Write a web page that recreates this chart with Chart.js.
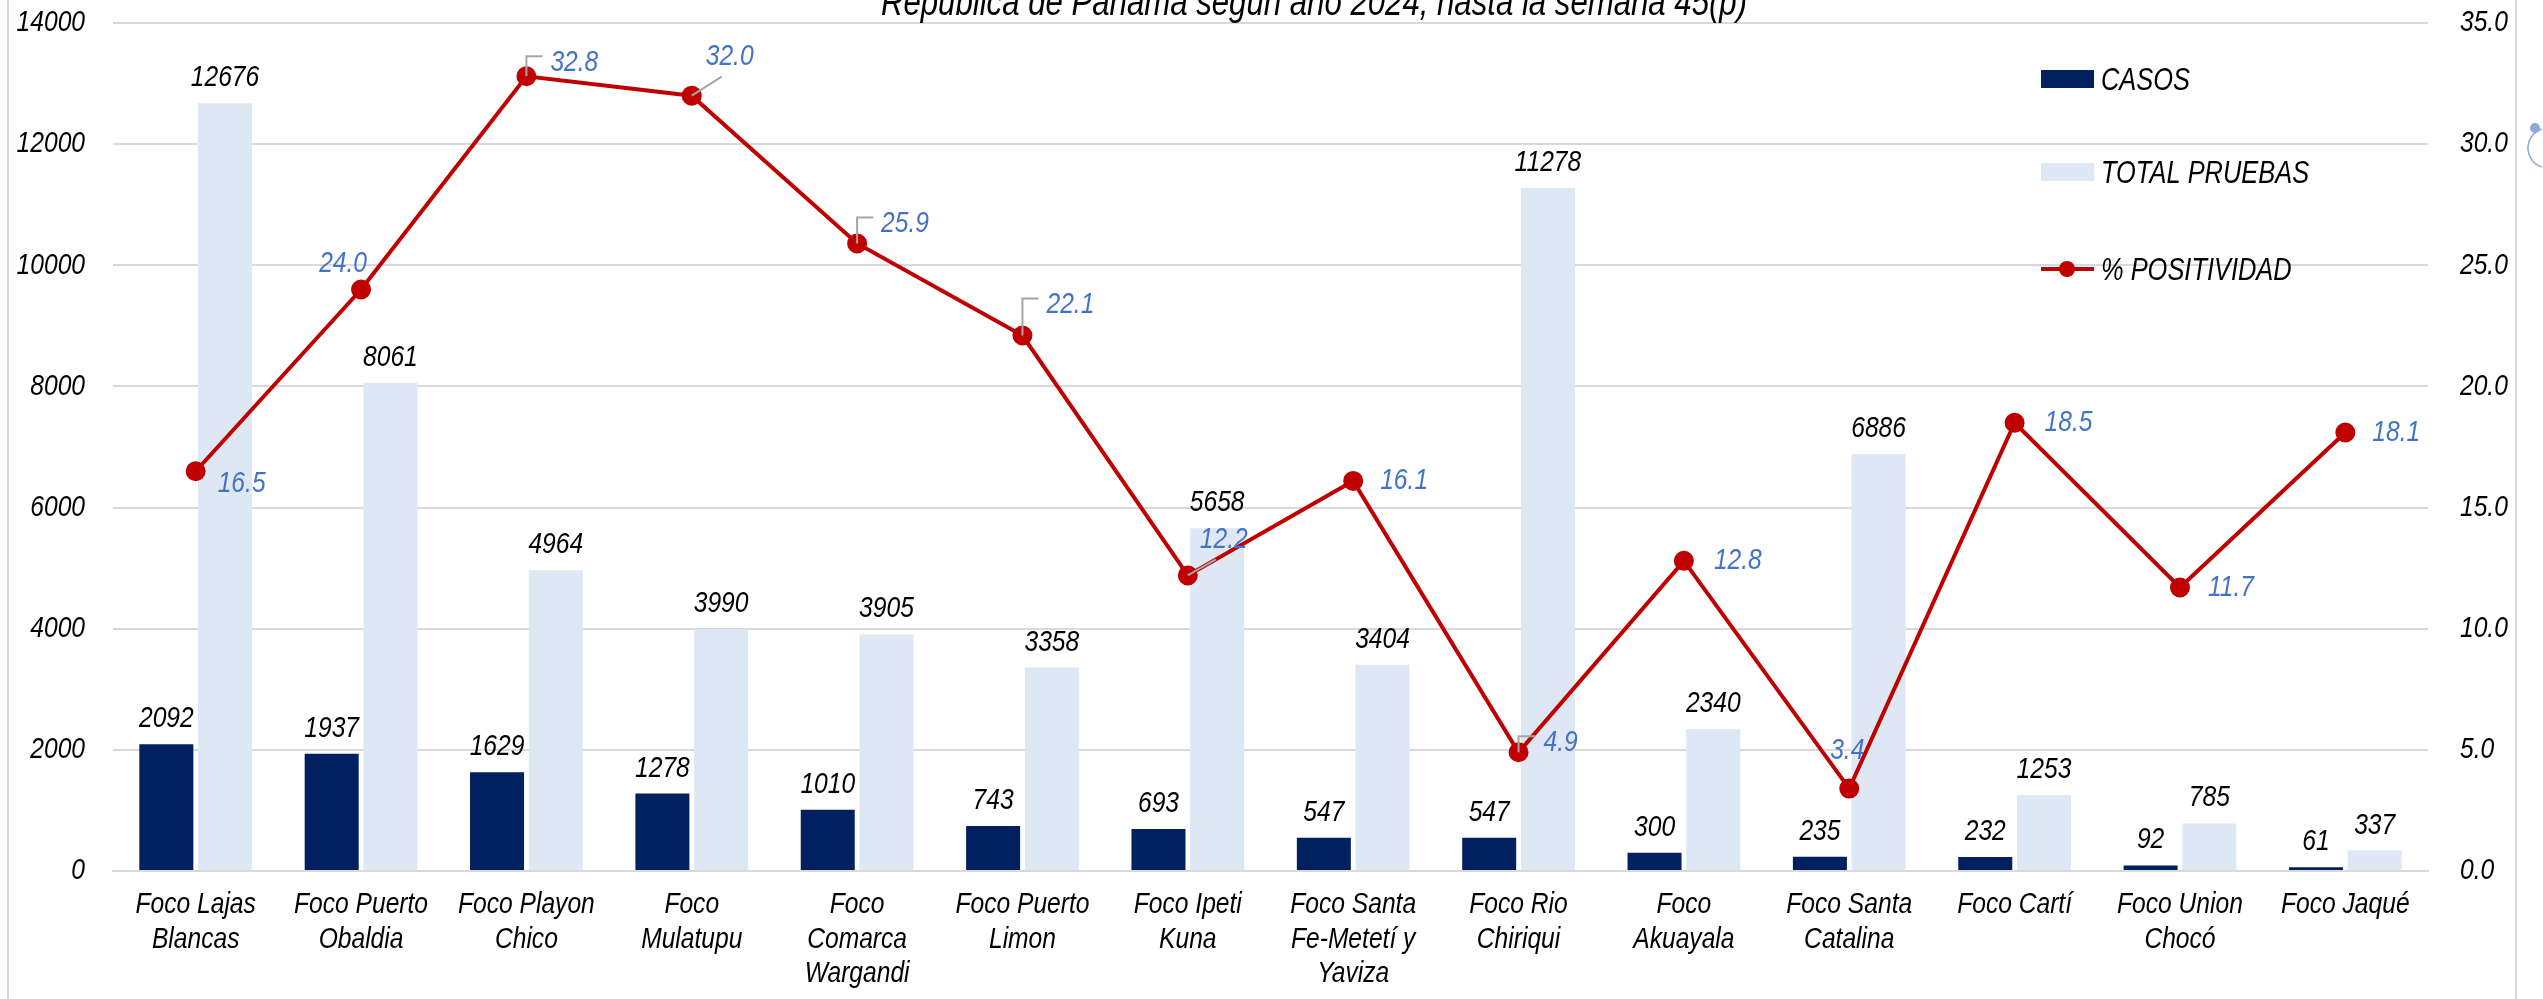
<!DOCTYPE html>
<html>
<head>
<meta charset="utf-8">
<script src="https://cdn.jsdelivr.net/npm/chart.js@4.4.1/dist/chart.umd.min.js"></script>
<style>
  html, body { margin: 0; padding: 0; background: #fff; }
  #wrap { width: 2543px; height: 999px; position: relative; }
</style>
</head>
<body>
<div id="wrap"><canvas id="grafico" width="2543" height="999"></canvas></div>
<script>
// datos
const categorias = [
    ['Foco Lajas', 'Blancas'],
    ['Foco Puerto', 'Obaldia'],
    ['Foco Playon', 'Chico'],
    ['Foco', 'Mulatupu'],
    ['Foco', 'Comarca', 'Wargandi'],
    ['Foco Puerto', 'Limon'],
    ['Foco Ipeti', 'Kuna'],
    ['Foco Santa', 'Fe-Metetí y', 'Yaviza'],
    ['Foco Rio', 'Chiriqui'],
    ['Foco', 'Akuayala'],
    ['Foco Santa', 'Catalina'],
    ['Foco Cartí'],
    ['Foco Union', 'Chocó'],
    ['Foco Jaqué']
];
const casos = [2092, 1937, 1629, 1278, 1010, 743, 693, 547, 547, 300, 235, 232, 92, 61];
const totalPruebas = [12676, 8061, 4964, 3990, 3905, 3358, 5658, 3404, 11278, 2340, 6886, 1253, 785, 337];
const positividad = [16.5, 24.0, 32.8, 32.0, 25.9, 22.1, 12.2, 16.1, 4.9, 12.8, 3.4, 18.5, 11.7, 18.1];
const ticksIzq = [0, 2000, 4000, 6000, 8000, 10000, 12000, 14000];
const ticksDer = [0, 5, 10, 15, 20, 25, 30, 35];
const titulo = 'República de Panamá según año 2024, hasta la semana 45(p)';

// posicion de las etiquetas del % (pixeles respecto al punto)
const posPct = [
    { dx: 22, dy: 12 },
    { dx: 6, dy: -26, align: 'right' },
    { dx: 24, dy: -14, guia: 'L' },
    { dx: 14, dy: -39, guia: 'diag' },
    { dx: 24, dy: -20, guia: 'L' },
    { dx: 24, dy: -31, guia: 'L' },
    { dx: 12, dy: -36, guia: 'diag' },
    { dx: 27, dy: 0 },
    { dx: 25, dy: -10, guia: 'L' },
    { dx: 30, dy: 0 },
    { dx: -2, dy: -38, align: 'center' },
    { dx: 30, dy: 0 },
    { dx: 28, dy: 0 },
    { dx: 27, dy: 0 }
];

// Arial Narrow no esta instalada: Liberation Sans comprimida en horizontal
const FUENTE = "'Liberation Sans', Arial, sans-serif";
const ESTRECHO = 0.82;
const AZUL_OSCURO = '#002060';
const AZUL_CLARO = '#DDE8F4';
const ROJO = '#C00000';

Chart.defaults.font.family = FUENTE;
Chart.defaults.font.style = 'italic';
Chart.defaults.font.size = 30;
Chart.defaults.color = '#000';

function texto(ctx, txt, x, y, align) {
    ctx.save();
    ctx.translate(x, y);
    ctx.scale(ESTRECHO, 1);
    ctx.textAlign = align || 'left';
    ctx.fillText(txt, 0, 0);
    ctx.restore();
}

// comprime las etiquetas de los ejes igual que el resto del texto
function estrechar(scale) {
    const dibujar = scale.drawLabels;
    scale.drawLabels = function (area) {
        const c = this.ctx;
        const rotar = c.rotate;
        c.rotate = function (a) { rotar.call(c, a); c.scale(ESTRECHO, 1); };
        dibujar.call(this, area);
        c.rotate = rotar;
    };
}

const etiquetas = {
    id: 'etiquetas',
    afterDatasetsDraw(chart) {
        const ctx = chart.ctx;
        ctx.save();
        ctx.font = 'italic 30px ' + FUENTE;
        ctx.textBaseline = 'alphabetic';
        ctx.fillStyle = '#000';
        [0, 1].forEach(d => {
            chart.getDatasetMeta(d).data.forEach((bar, i) => {
                texto(ctx, String(chart.data.datasets[d].data[i]), bar.x, bar.y - 17, 'center');
            });
        });

        // etiquetas de la linea
        ctx.textBaseline = 'middle';
        chart.getDatasetMeta(2).data.forEach((pt, i) => {
            const p = posPct[i];
            const x = pt.x + p.dx;
            const y = pt.y + p.dy;
            ctx.strokeStyle = '#A6A6A6';
            ctx.lineWidth = 2;
            if (p.guia === 'L') {
                ctx.beginPath();
                ctx.moveTo(pt.x, pt.y);
                ctx.lineTo(pt.x, y - 6);
                ctx.lineTo(x - 8, y - 6);
                ctx.stroke();
            } else if (p.guia === 'diag') {
                ctx.beginPath();
                ctx.moveTo(pt.x, pt.y);
                ctx.lineTo(x + 16, y + 20);
                ctx.stroke();
            }
            ctx.fillStyle = '#4472C4';
            texto(ctx, positividad[i].toFixed(1), x, y, p.align);
        });
        ctx.restore();
    },
    afterDraw(chart) {
        const ctx = chart.ctx;
        ctx.save();
        // titulo cortado arriba
        ctx.font = 'italic 38px ' + FUENTE;
        ctx.fillStyle = '#000';
        ctx.textBaseline = 'alphabetic';
        texto(ctx, titulo, 1314, 15, 'center');

        // marco
        ctx.strokeStyle = '#D9D9D9';
        ctx.lineWidth = 2;
        ctx.beginPath();
        ctx.moveTo(8, 0); ctx.lineTo(8, 999);
        ctx.moveTo(2516, 0); ctx.lineTo(2516, 999);
        ctx.stroke();

        // icono del borde
        ctx.strokeStyle = '#8EA9DB';
        ctx.lineWidth = 1.5;
        ctx.beginPath();
        ctx.arc(2548, 148, 20, 0.6 * Math.PI, 1.4 * Math.PI);
        ctx.stroke();
        ctx.fillStyle = '#8EA9DB';
        ctx.beginPath();
        ctx.arc(2535, 128, 5, 0, 2 * Math.PI);
        ctx.fill();

        // leyenda
        ctx.font = 'italic 31px ' + FUENTE;
        ctx.textBaseline = 'middle';
        const ds = chart.data.datasets;
        const filas = [79, 172, 269];
        ctx.fillStyle = AZUL_OSCURO;
        ctx.fillRect(2041, filas[0] - 9, 53, 18);
        ctx.fillStyle = AZUL_CLARO;
        ctx.fillRect(2041, filas[1] - 9, 53, 18);
        ctx.strokeStyle = ROJO;
        ctx.lineWidth = 4;
        ctx.beginPath();
        ctx.moveTo(2041, filas[2]); ctx.lineTo(2094, filas[2]);
        ctx.stroke();
        ctx.fillStyle = ROJO;
        ctx.beginPath();
        ctx.arc(2067, filas[2], 8, 0, 2 * Math.PI);
        ctx.fill();
        ctx.fillStyle = '#000';
        ds.forEach((d, i) => texto(ctx, d.label, 2101, filas[i] + 2));
        ctx.restore();
    }
};

// sin el margen extra que Chart.js deja para las etiquetas de los extremos
function sinMargen(scale) {
    scale.paddingTop = 0;
    scale.paddingBottom = 0;
    scale.paddingLeft = 0;
    scale.paddingRight = 0;
}

const ctx = document.getElementById('grafico').getContext('2d');
const grafico = new Chart(ctx, {
    type: 'bar',
    data: {
        labels: categorias,
        datasets: [{
            label: 'CASOS',
            data: casos,
            backgroundColor: AZUL_OSCURO,
            yAxisID: 'y',
            order: 1,
            barPercentage: 0.92,
            categoryPercentage: 0.71
        }, {
            label: 'TOTAL PRUEBAS',
            data: totalPruebas,
            backgroundColor: AZUL_CLARO,
            yAxisID: 'y',
            order: 1,
            barPercentage: 0.92,
            categoryPercentage: 0.71
        }, {
            type: 'line',
            label: '% POSITIVIDAD',
            data: positividad,
            borderColor: ROJO,
            backgroundColor: ROJO,
            borderWidth: 4,
            pointRadius: 8,
            pointHoverRadius: 8,
            tension: 0,
            yAxisID: 'y1',
            order: 0
        }]
    },
    options: {
        responsive: false,
        animation: false,
        devicePixelRatio: 1,
        layout: { padding: { top: 23, left: 0, right: 0, bottom: 0 } },
        plugins: {
            legend: { display: false },
            title: { display: false },
            tooltip: { enabled: false }
        },
        scales: {
            x: {
                grid: { display: false },
                border: { color: '#D9D9D9', width: 2 },
                ticks: {
                    maxRotation: 0,
                    autoSkip: false,
                    padding: 9,
                    color: '#000',
                    font: { lineHeight: 1.14 }
                },
                afterFit(scale) { scale.height = 128; sinMargen(scale); }
            },
            y: {
                position: 'left',
                min: ticksIzq[0],
                max: ticksIzq[ticksIzq.length - 1],
                ticks: {
                    stepSize: ticksIzq[1] - ticksIzq[0],
                    padding: 28,
                    color: '#000',
                    callback: v => String(v)
                },
                grid: { color: '#D9D9D9', lineWidth: 2, drawTicks: false },
                border: { display: false },
                afterFit(scale) { scale.width = 113; sinMargen(scale); }
            },
            y1: {
                position: 'right',
                min: ticksDer[0],
                max: ticksDer[ticksDer.length - 1],
                ticks: {
                    stepSize: ticksDer[1] - ticksDer[0],
                    padding: 32,
                    color: '#000',
                    callback: v => v.toFixed(1)
                },
                grid: { display: false, drawTicks: false },
                border: { display: false },
                afterFit(scale) { scale.width = 115; sinMargen(scale); }
            }
        }
    },
    plugins: [etiquetas]
});
['x', 'y', 'y1'].forEach(id => estrechar(grafico.scales[id]));
grafico.draw();
</script>
</body>
</html>
